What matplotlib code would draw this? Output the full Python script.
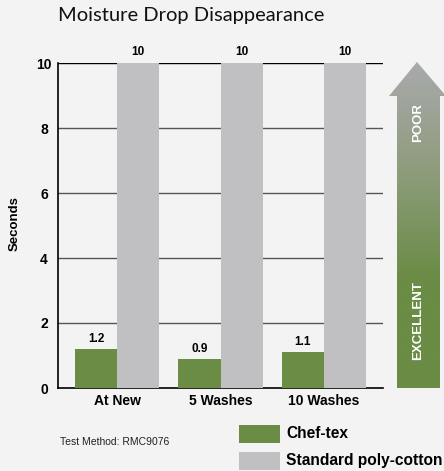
import matplotlib
matplotlib.use("Agg")
import matplotlib.pyplot as plt
import numpy as np
from matplotlib.patches import Polygon, Rectangle
from matplotlib.colors import LinearSegmentedColormap
from matplotlib import font_manager as fm

categories = ["At New", "5 Washes", "10 Washes"]
chef_tex = [1.2, 0.9, 1.1]
standard = [10, 10, 10]
series_names = ["Chef-tex", "Standard poly-cotton"]
yticks = [0, 2, 4, 6, 8, 10]

GREEN = "#6a8c45"
GRAY = "#c0c0c2"
BG = "#f3f3f3"

def find_font(bold):
    for f in fm.fontManager.ttflist:
        if f.name == 'Liberation Sans' and f.style == 'normal':
            if (f.weight in (700, 'bold')) == bold:
                return f.fname
    return None

bold_file = find_font(True)
reg_file = find_font(False)
BOLD = fm.FontProperties(fname=bold_file) if bold_file else fm.FontProperties(family='DejaVu Sans', weight='bold')
REG = fm.FontProperties(fname=reg_file) if reg_file else fm.FontProperties(family='DejaVu Sans')

def fp(base, size):
    p = base.copy()
    p.set_size(size)
    return p

W, H = 444, 471
fig = plt.figure(figsize=(W / 100, H / 100), dpi=100, facecolor=BG)

def px(x0, y0, x1, y1):
    return [x0 / W, 1 - y1 / H, (x1 - x0) / W, (y1 - y0) / H]

ax = fig.add_axes(px(58, 63, 383, 388))
ax.set_facecolor("none")
x = np.arange(len(categories))
bw = 0.406
b1 = ax.bar(x - bw / 2, chef_tex, bw, color=GREEN, zorder=3)
b2 = ax.bar(x + bw / 2, standard, bw, color=GRAY, zorder=3)
ax.set_xlim(-0.57, 2.57)
ax.set_ylim(0, 10)
ax.set_yticks(yticks)
ax.set_yticklabels([str(t) for t in yticks], fontproperties=fp(BOLD, 10), ha='center')
ax.set_xticks(x)
ax.set_xticklabels(categories, fontproperties=fp(BOLD, 10))
ax.tick_params(axis='x', length=0, pad=4)
ax.tick_params(axis='y', length=0, pad=10)
for s in ['top', 'right']:
    ax.spines[s].set_visible(False)
ax.spines['left'].set_color('black')
ax.spines['bottom'].set_color('black')
ax.spines['left'].set_linewidth(1.2)
ax.spines['bottom'].set_linewidth(1.2)
for t in yticks[1:]:
    ax.axhline(t, color='#555555' if t < 10 else 'black', lw=1.0, zorder=2)

for rect, v in zip(b1, chef_tex):
    ax.text(rect.get_x() + rect.get_width() / 2, v + 0.13, f"{v}", ha='center', va='bottom',
            fontproperties=fp(BOLD, 8.5))
for rect, v in zip(b2, standard):
    ax.text(rect.get_x() + rect.get_width() / 2, v + 0.16, f"{v}", ha='center', va='bottom',
            fontproperties=fp(BOLD, 8.5), clip_on=False)

# overlay axes in pixel coords
ov = fig.add_axes([0, 0, 1, 1])
ov.set_xlim(0, W)
ov.set_ylim(H, 0)
ov.axis('off')
ov.set_zorder(5)

ov.text(58, 16, "Moisture Drop Disappearance", fontsize=14.5, family=['Lato', 'DejaVu Sans'],
        va='center', ha='left', color='#111111')
ov.text(15, 224, "Seconds", rotation=90, fontproperties=fp(BOLD, 9.5), ha='center', va='center')

# arrow
pts = [(397, 388), (397, 96), (389, 96), (417, 62), (446, 96), (440, 96), (440, 388)]
poly = Polygon(pts, closed=True, facecolor='none', edgecolor='none')
ov.add_patch(poly)
cmap = LinearSegmentedColormap.from_list("g", ["#a9aaad", "#8e9c7c", GREEN, GREEN])
grad = np.linspace(0, 1, 256).reshape(-1, 1)
im = ov.imshow(grad, cmap=cmap, extent=(385, 446, 388, 62), aspect='auto', origin='upper')
im.set_clip_path(poly)
ov.set_xlim(0, W)
ov.set_ylim(H, 0)
ov.text(418, 123, "POOR", rotation=90, color='white', fontproperties=fp(BOLD, 9.5),
        ha='center', va='center')
ov.text(418, 321, "EXCELLENT", rotation=90, color='white', fontproperties=fp(BOLD, 9.5),
        ha='center', va='center')

# legend
ov.add_patch(Rectangle((239, 425), 41, 18, facecolor=GREEN, edgecolor='none'))
ov.add_patch(Rectangle((239, 452), 41, 18, facecolor=GRAY, edgecolor='none'))
ov.text(286, 434, series_names[0], fontproperties=fp(BOLD, 11.2), va='center', ha='left')
ov.text(286, 461, series_names[1], fontproperties=fp(BOLD, 11.2), va='center', ha='left')
ov.text(60, 442, "Test Method: RMC9076", fontproperties=fp(REG, 7.5), va='center', ha='left', color='#222222')

fig.savefig("out.png", dpi=100, facecolor=BG)
